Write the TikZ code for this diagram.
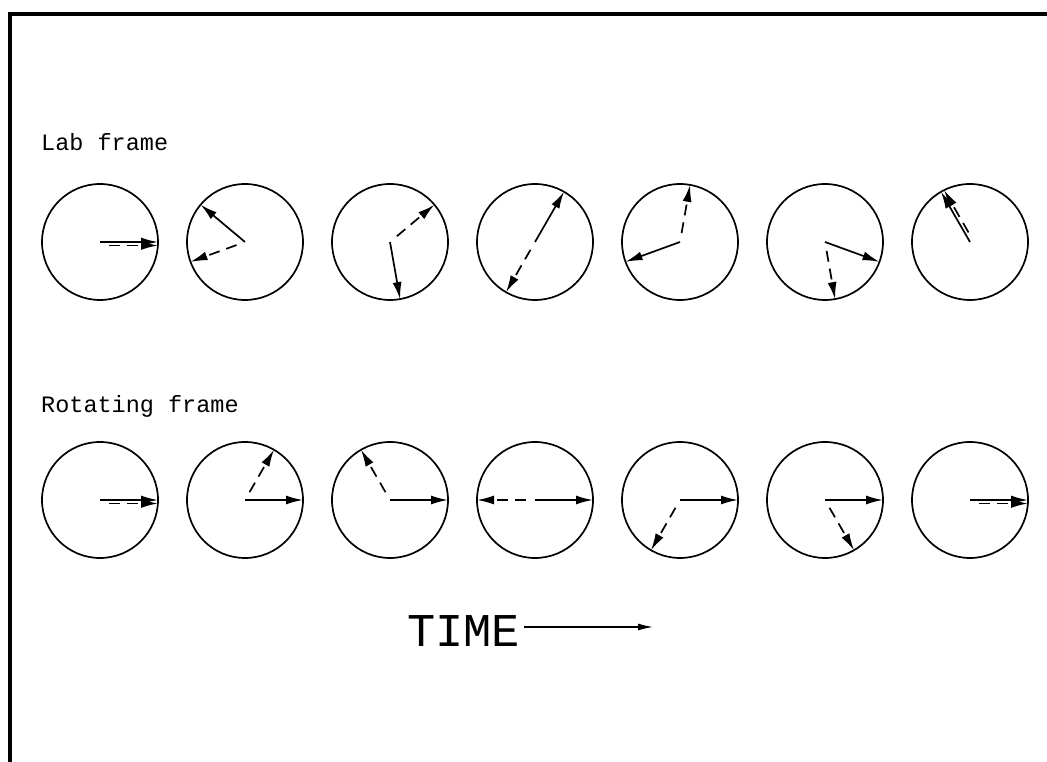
\documentclass[tikz,border=0pt]{standalone}
\usepackage{fontspec}
\setmonofont{Liberation Mono}
\usetikzlibrary{arrows.meta}

\begin{document}
\begin{tikzpicture}[x=1pt, y=1pt,
		clock/.style={draw, circle, line width=1.7pt, minimum size=116pt, inner sep=0pt, outer sep=0pt},
		vec/.style={->, line width=1.7pt},
		dvec/.style={->, line width=1.7pt, dash pattern=on 11pt off 7pt, shorten <=9pt},
		>={Latex[length=17pt, width=9pt]},
		font=\ttfamily\fontsize{23.5}{27}\selectfont]
		\useasboundingbox (0,0) rectangle (1047,762);
		% Rahmen
		\draw[line width=4pt] (9.5,0) -- (9.5,748) -- (1047,748);
		% Ueberschriften
		\node[anchor=base west, inner sep=0pt] (labtitle) at (41,611) {Lab frame};
		\node[anchor=base west, inner sep=0pt] (rottitle) at (41,349) {Rotating frame};
		% Uhren mit Vektoren
		\foreach \k in {0,...,6} {
			\node[clock] (lab\k) at ({100+145*\k},520) {};
			\node[clock] (rot\k) at ({100+145*\k},262) {};
			\pgfmathtruncatemacro\sa{mod(140*\k,360)}
			\pgfmathtruncatemacro\da{mod(200*\k,360)}
			\pgfmathtruncatemacro\ra{mod(60*\k,360)}
			\pgfmathsetmacro\lo{ifthenelse(\sa==\da,3.5,0)}
			\pgfmathsetmacro\ro{ifthenelse(\ra==0,3.5,0)}
			\pgfmathsetmacro\oa{\sa-90}
			% Laborsystem
			\draw[vec] (lab\k.center) -- (lab\k.\sa);
			\draw[dvec, transform canvas={shift={(\oa:\lo)}}] (lab\k.center) -- (lab\k.\da);
			% rotierendes System
			\draw[vec] (rot\k.center) -- (rot\k.0);
			\draw[dvec, transform canvas={shift={(-90:\ro)}}] (rot\k.center) -- (rot\k.\ra);
		}
		% Zeitachse
		\node[anchor=base west, inner sep=4pt, font=\ttfamily\fontsize{47}{50}\selectfont] (time) at (403,115) {TIME};
		\coordinate (timeend) at (653,135);
		\draw[->, >={Latex[length=15pt, width=7pt]}, line width=1.3pt] (time.east |- timeend) -- (timeend);
\end{tikzpicture}
\end{document}
